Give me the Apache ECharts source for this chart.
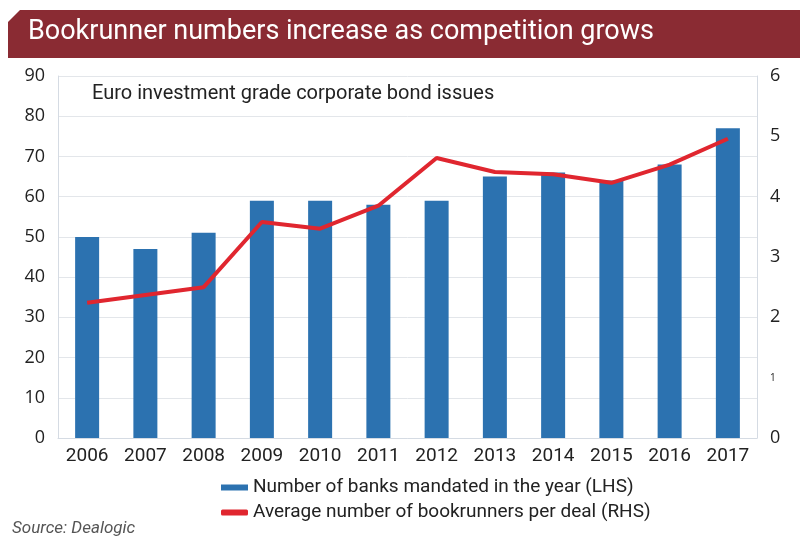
<!DOCTYPE html>
<html>
<head>
<meta charset="utf-8">
<script src="https://cdn.jsdelivr.net/npm/echarts@6/dist/echarts.min.js"></script>
<style>
  html, body { margin: 0; padding: 0; background: #fff; }
  #chart { width: 800px; height: 553px; }
</style>
</head>
<body>
<div id="chart"></div>
<script>
// data
let years = ['2006','2007','2008','2009','2010','2011','2012','2013','2014','2015','2016','2017'];
let banksMandated = [50, 47, 51, 59, 59, 58, 59, 65, 66, 64, 68, 77];          // LHS
let avgBookrunners = [2.24, 2.37, 2.5, 3.58, 3.47, 3.85, 4.64, 4.41, 4.37, 4.23, 4.53, 4.96]; // RHS
let leftTicks = [0, 10, 20, 30, 40, 50, 60, 70, 80, 90];
let rightTicks = [0, 1, 2, 3, 4, 5, 6];

let font = '"Open Sans", "DejaVu Sans", sans-serif';
let narrow = '"Liberation Sans Narrow", "Roboto", sans-serif';

let chart = echarts.init(document.getElementById('chart'));

let option = {
    backgroundColor: '#fff',
    animation: false,
    graphic: [
        {   // title band with cut corner
            type: 'polygon',
            shape: { points: [[8, 22], [20, 10], [800, 10], [800, 58], [8, 58]] },
            style: { fill: '#8a2b33' }
        },
        {
            type: 'text', left: 28, top: 19,
            style: { text: 'Bookrunner numbers increase as competition grows', fill: '#fff', font: '27px ' + narrow }
        },
        {
            type: 'text', left: 92, top: 84,
            style: { text: 'Euro investment grade corporate bond issues', fill: '#222', font: '20px ' + narrow }
        },
        {
            type: 'text', left: 12, top: 520,
            style: { text: 'Source: Dealogic', fill: '#555', font: 'italic 17px ' + narrow }
        }
    ],
    grid: { left: 58, right: 43, top: 76, bottom: 115 },
    legend: {
        orient: 'vertical',
        left: 216, top: 473,
        itemWidth: 27, itemHeight: 6, itemGap: 6,
        textStyle: { fontFamily: narrow, fontSize: 19, color: '#222' },
        data: [
            { name: 'Number of banks mandated in the year (LHS)', icon: 'rect' },
            { name: 'Average number of bookrunners per deal (RHS)', icon: 'roundRect' }
        ]
    },
    xAxis: {
        type: 'category',
        data: years,
        axisLine: { lineStyle: { color: '#d5dbe3' } },
        axisTick: { show: false },
        axisLabel: { fontFamily: narrow, fontSize: 19, color: '#222', margin: 9 }
    },
    yAxis: [
        {
            type: 'value', min: 0, max: 90, interval: 10,
            axisLine: { show: true, lineStyle: { color: '#d5dbe3' } },
            axisTick: { show: false },
            splitLine: { lineStyle: { color: '#e3e6ea' } },
            axisLabel: { fontFamily: font, fontSize: 18, color: '#222', margin: 13,
                customValues: leftTicks }
        },
        {
            type: 'value', min: 0, max: 6, interval: 1,
            position: 'right',
            axisLine: { show: true, lineStyle: { color: '#d5dbe3' } },
            axisTick: { show: false },
            splitLine: { show: false },
            axisLabel: {
                fontFamily: font, fontSize: 18, color: '#222', margin: 13,
                customValues: rightTicks,
                formatter: function (v) { return v === 1 ? '{s|1}' : String(v); },
                rich: { s: { fontSize: 10, fontFamily: font, color: '#222' } }
            }
        }
    ],
    series: [
        {
            name: 'Number of banks mandated in the year (LHS)',
            type: 'bar',
            yAxisIndex: 0,
            data: banksMandated,
            barWidth: 24,
            itemStyle: { color: '#2c72b0' }
        },
        {
            name: 'Average number of bookrunners per deal (RHS)',
            type: 'line',
            yAxisIndex: 1,
            data: avgBookrunners,
            symbol: 'none',
            lineStyle: { color: '#e0262f', width: 4 },
            itemStyle: { color: '#e0262f' }
        }
    ]
};

option && chart.setOption(option);
</script>
</body>
</html>
